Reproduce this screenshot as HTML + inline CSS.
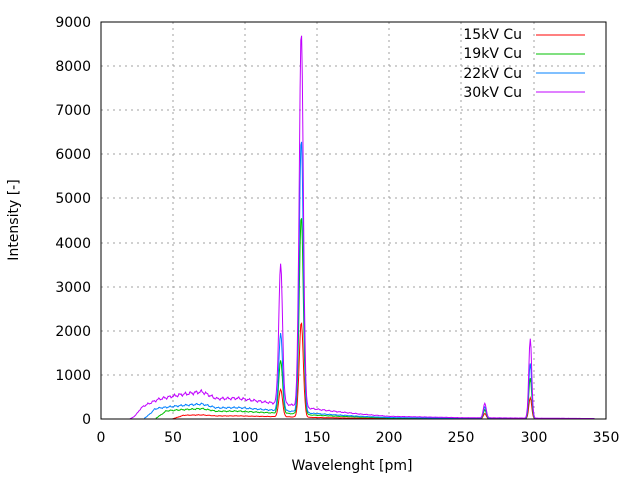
<!DOCTYPE html>
<html><head><meta charset="utf-8"><style>
body{margin:0;background:#fff}
svg{display:block}
text{font-family:"DejaVu Sans","Liberation Sans",sans-serif;font-size:14px;fill:#000}
</style></head><body>
<svg id="s" width="640" height="480" xmlns="http://www.w3.org/2000/svg">
<rect width="640" height="480" fill="#fff"/>
<g stroke="#a0a0a0" stroke-dasharray="2,4" stroke-width="1">
<line x1="173" y1="22" x2="173" y2="419"/><line x1="245" y1="22" x2="245" y2="419"/>
<line x1="317" y1="22" x2="317" y2="419"/><line x1="389" y1="22" x2="389" y2="419"/>
<line x1="461" y1="22" x2="461" y2="419"/><line x1="534" y1="22" x2="534" y2="419"/>
<line x1="101" y1="375" x2="606" y2="375"/><line x1="101" y1="331" x2="606" y2="331"/>
<line x1="101" y1="287" x2="606" y2="287"/><line x1="101" y1="243" x2="606" y2="243"/>
<line x1="101" y1="198" x2="606" y2="198"/><line x1="101" y1="154" x2="606" y2="154"/>
<line x1="101" y1="110" x2="606" y2="110"/><line x1="101" y1="66" x2="606" y2="66"/>
</g>
<g id="series" fill="none" stroke-width="1"></g>
<rect x="101" y="22" width="505" height="397" fill="none" stroke="#000"/>
<g text-anchor="end">
<text x="91" y="424">0</text><text x="91" y="380">1000</text><text x="91" y="336">2000</text>
<text x="91" y="292">3000</text><text x="91" y="248">4000</text><text x="91" y="203">5000</text>
<text x="91" y="159">6000</text><text x="91" y="115">7000</text><text x="91" y="71">8000</text>
<text x="91" y="27">9000</text>
</g>
<g text-anchor="middle">
<text x="101" y="442">0</text><text x="173" y="442">50</text><text x="245" y="442">100</text>
<text x="317" y="442">150</text><text x="389" y="442">200</text><text x="461" y="442">250</text>
<text x="534" y="442">300</text><text x="606" y="442">350</text>
<text x="352" y="470">Wavelenght [pm]</text>
<text transform="translate(18,220) rotate(-90)">Intensity [-]</text>
</g>
<g text-anchor="end">
<text x="522" y="39">15kV Cu</text><text x="522" y="58">19kV Cu</text>
<text x="522" y="78">22kV Cu</text><text x="522" y="97">30kV Cu</text>
</g>
<line x1="536" y1="35" x2="585" y2="35" stroke="#ff0000"/>
<line x1="536" y1="54" x2="585" y2="54" stroke="#00c000"/>
<line x1="536" y1="73" x2="585" y2="73" stroke="#0080ff"/>
<line x1="536" y1="92" x2="585" y2="92" stroke="#c000ff"/>
</svg>
<script>
var S=[
 {c:"#ff0000",k:0.15,st:50,p:[620,2150,120,480]},
 {c:"#00c000",k:0.38,st:38,p:[1200,4500,200,920]},
 {c:"#0080ff",k:0.55,st:30,p:[1750,6200,260,1250]},
 {c:"#c000ff",k:1.0,st:20,p:[3150,8500,330,1800]}
];
function cont(x){
 var pts=[[20,50],[30,300],[40,450],[55,550],[70,620],[80,460],[95,470],[110,400],[120,360],[130,330],[145,240],[160,180],[180,110],[200,60],[250,30],[300,20],[342,10]];
 for(var i=0;i<pts.length-1;i++){if(x>=pts[i][0]&&x<=pts[i+1][0]){var t=(x-pts[i][0])/(pts[i+1][0]-pts[i][0]);return pts[i][1]+t*(pts[i+1][1]-pts[i][1]);}}
 return 0;
}
function g(x,m,s){return Math.exp(-(x-m)*(x-m)/(2*s*s));}
var G=document.getElementById("series"),h="";
S.forEach(function(s,j){
 var d="";
 for(var x=s.st;x<=342;x+=0.5){
  var v=cont(x)*s.k*Math.min(1,(x-s.st)/8+0.1);
  v*=1+0.05*Math.sin(x*1.7+j)+0.03*Math.sin(x*4.1);
  v+=s.p[0]*g(x,124.5,1.3)+s.p[1]*g(x,138.8,1.4)+s.p[2]*g(x,266,1.0)+s.p[3]*g(x,297.5,1.0);
  var px=101+x*505/350,py=419-v*397/9000;
  d+=(d?"L":"M")+px.toFixed(1)+","+py.toFixed(1);
 }
 h+='<path d="'+d+'" stroke="'+s.c+'"/>';
});
G.innerHTML=h;
</script>
</body></html>
